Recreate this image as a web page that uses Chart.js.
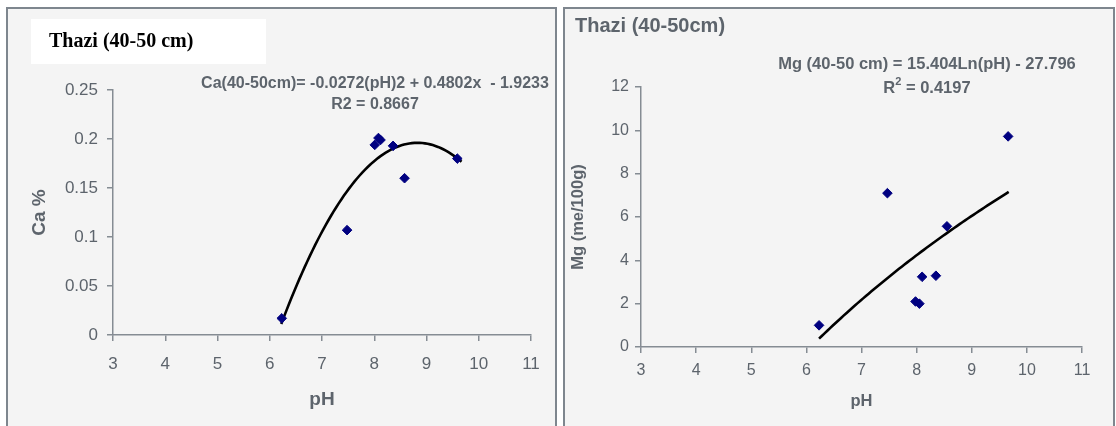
<!DOCTYPE html>
<html>
<head>
<meta charset="utf-8">
<title>Thazi (40-50 cm)</title>
<script src="https://cdn.jsdelivr.net/npm/chart.js@4.4.1/dist/chart.umd.min.js"></script>
<style>
  body {
    margin: 0;
    width: 1116px;
    height: 426px;
    overflow: hidden;
    position: relative;
    background: #ffffff;
  }
  .panel {
    position: absolute;
    top: 7px;
    height: 440px;
    border: 2px solid #7e868e;
    background: #f4f4f4;
    box-sizing: border-box;
  }
  #caPanel { left: 6px; width: 551px; }
  #mgPanel { left: 563px; width: 552px; }
  .panel canvas { position: absolute; left: 0; top: 0; }
</style>
</head>
<body>
<div class="panel" id="caPanel"><canvas id="caChart" width="547" height="417"></canvas></div>
<div class="panel" id="mgPanel"><canvas id="mgChart" width="548" height="417"></canvas></div>

<script>
// Mẫu đất Thazi, tầng 40-50 cm
const caPH = [6.23, 7.48, 8.01, 8.08, 8.12, 8.36, 8.58, 9.59];
const caValues = [0.017, 0.107, 0.194, 0.201, 0.199, 0.193, 0.160, 0.180];

const mgPH = [6.23, 7.47, 7.98, 8.05, 8.10, 8.35, 8.55, 9.66];
const mgValues = [1.0, 7.1, 2.1, 2.0, 3.24, 3.29, 5.57, 9.72];

// Trục
const phTicks = [3, 4, 5, 6, 7, 8, 9, 10, 11];
const caTicks = [0, 0.05, 0.1, 0.15, 0.2, 0.25];
const mgTicks = [0, 2, 4, 6, 8, 10, 12];

// Hệ số đường xu hướng (theo phương trình ghi trên biểu đồ)
const caFit = [-0.0272, 0.4802, -1.9233];   // a*pH^2 + b*pH + c
const caFitRange = [6.22, 9.67];
const mgFit = [15.404, -27.796];            // a*ln(pH) + b
const mgFitRange = [6.23, 9.67];

const caLabels = {
    title: "Thazi (40-50 cm)",
    equation: "Ca(40-50cm)= -0.0272(pH)2 + 0.4802x  - 1.9233",
    r2: "R2 = 0.8667"
};
const mgLabels = {
    title: "Thazi (40-50cm)",
    equation: "Mg (40-50 cm) = 15.404Ln(pH) - 27.796",
    r2: "0.4197"
};

const textGray = "#5d646c";
const axisGray = "#858c93";
const markerBlue = "#000080";
const sansFont = "'Liberation Sans', Arial, sans-serif";

// Lấy điểm cho đường xu hướng từ phương trình
function trendPoints(range, fn) {
    const pts = [];
    for (let x = range[0]; x < range[1]; x += 0.05) {
        pts.push({ x: x, y: fn(x) });
    }
    pts.push({ x: range[1], y: fn(range[1]) });
    return pts;
}

function fixedTicks(values) {
    return function (scale) {
        scale.ticks = values.map(v => ({ value: v }));
    };
}

// Vẽ tiêu đề, phương trình và R2
const notesPlugin = {
    id: "notes",
    afterDraw(chart, args, o) {
        const ctx = chart.ctx;
        const eqFont = "bold " + o.eqSize + "px " + sansFont;
        ctx.save();
        if (o.box) {
            ctx.fillStyle = "#ffffff";
            ctx.fillRect(o.box[0], o.box[1], o.box[2], o.box[3]);
        }
        ctx.textBaseline = "middle";
        ctx.fillStyle = o.titleColor;
        ctx.font = o.titleFont;
        ctx.textAlign = "left";
        ctx.fillText(o.title, o.titleAt[0], o.titleAt[1]);

        ctx.fillStyle = textGray;
        ctx.font = eqFont;
        ctx.textAlign = "center";
        ctx.fillText(o.equation, o.eqAt[0], o.eqAt[1]);

        if (o.superscript) {
            // R² với số 2 viết nhỏ phía trên
            const head = "R";
            const tail = " = " + o.r2;
            const wHead = ctx.measureText(head).width;
            const wTail = ctx.measureText(tail).width;
            ctx.font = "bold 11px " + sansFont;
            const wSup = ctx.measureText("2").width;
            const start = o.r2At[0] - (wHead + wSup + wTail) / 2;
            ctx.textAlign = "left";
            ctx.fillText("2", start + wHead, o.r2At[1] - 6);
            ctx.font = eqFont;
            ctx.fillText(head, start, o.r2At[1]);
            ctx.fillText(tail, start + wHead + wSup, o.r2At[1]);
        } else {
            ctx.fillText(o.r2, o.r2At[0], o.r2At[1]);
        }
        ctx.restore();
    }
};

function renderChart(canvasId, cfg) {
    const ctx = document.getElementById(canvasId).getContext("2d");
    return new Chart(ctx, {
        type: "scatter",
        data: {
            datasets: [
                {
                    label: "data",
                    data: cfg.xs.map((x, i) => ({ x: x, y: cfg.ys[i] })),
                    pointStyle: "rectRot",
                    pointRadius: 4.8,
                    pointHoverRadius: 4.8,
                    backgroundColor: markerBlue,
                    borderColor: markerBlue,
                    borderWidth: 1,
                    order: 1
                },
                {
                    label: "trend",
                    type: "line",
                    data: cfg.trend,
                    borderColor: "#000000",
                    borderWidth: 2.6,
                    pointRadius: 0,
                    fill: false,
                    tension: 0,
                    order: 2
                }
            ]
        },
        options: {
            responsive: false,
            animation: false,
            events: [],
            layout: { padding: cfg.padding },
            plugins: {
                legend: { display: false },
                tooltip: { enabled: false },
                notes: cfg.notes
            },
            scales: {
                x: {
                    type: "linear",
                    min: 3,
                    max: 11,
                    afterBuildTicks: fixedTicks(phTicks),
                    afterFit: s => { s.height = cfg.xHeight; },
                    grid: {
                        drawOnChartArea: false,
                        drawTicks: true,
                        tickLength: 6,
                        color: axisGray,
                        lineWidth: 1.5
                    },
                    border: { color: axisGray, width: 1.5 },
                    ticks: {
                        color: textGray,
                        padding: cfg.xTickPad,
                        font: { family: sansFont, size: cfg.tickSize }
                    },
                    title: {
                        display: true,
                        text: "pH",
                        color: textGray,
                        font: { family: sansFont, size: cfg.axisTitleSize, weight: "bold" },
                        padding: { top: 0, bottom: cfg.xTitlePad }
                    }
                },
                y: {
                    type: "linear",
                    min: cfg.yTicks[0],
                    max: cfg.yTicks[cfg.yTicks.length - 1],
                    afterBuildTicks: fixedTicks(cfg.yTicks),
                    afterFit: s => { s.width = cfg.yWidth; },
                    grid: {
                        drawOnChartArea: false,
                        drawTicks: true,
                        tickLength: 6,
                        color: axisGray,
                        lineWidth: 1.5
                    },
                    border: { color: axisGray, width: 1.5 },
                    ticks: {
                        color: textGray,
                        padding: cfg.yTickPad,
                        font: { family: sansFont, size: cfg.tickSize },
                        callback: v => String(+v.toFixed(2))
                    },
                    title: {
                        display: true,
                        text: cfg.yTitle,
                        color: textGray,
                        font: { family: sansFont, size: cfg.axisTitleSize, weight: "bold" },
                        padding: { top: cfg.yTitlePad, bottom: 0 }
                    }
                }
            }
        },
        plugins: [notesPlugin]
    });
}

// Ca %
renderChart("caChart", {
    xs: caPH,
    ys: caValues,
    trend: trendPoints(caFitRange, x => caFit[0] * x * x + caFit[1] * x + caFit[2]),
    yTicks: caTicks,
    yTitle: "Ca %",
    padding: { top: 81, right: 24, left: 0, bottom: 0 },
    xHeight: 91,
    yWidth: 105,
    tickSize: 17,
    axisTitleSize: 19,
    xTickPad: 13,
    yTickPad: 9,
    xTitlePad: 15,
    yTitlePad: 20,
    notes: {
        box: [23, 10, 235, 45],
        title: caLabels.title,
        titleFont: "bold 20px 'Liberation Serif', 'Times New Roman', serif",
        titleColor: "#000000",
        titleAt: [41, 33],
        equation: caLabels.equation,
        eqSize: 16,
        eqAt: [367, 75],
        r2: caLabels.r2,
        r2At: [367, 96],
        superscript: false
    }
});

// Mg (me/100g)
renderChart("mgChart", {
    xs: mgPH,
    ys: mgValues,
    trend: trendPoints(mgFitRange, x => mgFit[0] * Math.log(x) + mgFit[1]),
    yTicks: mgTicks,
    yTitle: "Mg (me/100g)",
    padding: { top: 78, right: 31, left: 0, bottom: 0 },
    xHeight: 79,
    yWidth: 76,
    tickSize: 16,
    axisTitleSize: 16.5,
    xTickPad: 8,
    yTickPad: 6,
    xTitlePad: 15,
    yTitlePad: 4,
    notes: {
        box: null,
        title: mgLabels.title,
        titleFont: "bold 20px " + sansFont,
        titleColor: textGray,
        titleAt: [10, 17],
        equation: mgLabels.equation,
        eqSize: 16.5,
        eqAt: [362, 55],
        r2: mgLabels.r2,
        r2At: [362, 79],
        superscript: true
    }
});
</script>
</body>
</html>
